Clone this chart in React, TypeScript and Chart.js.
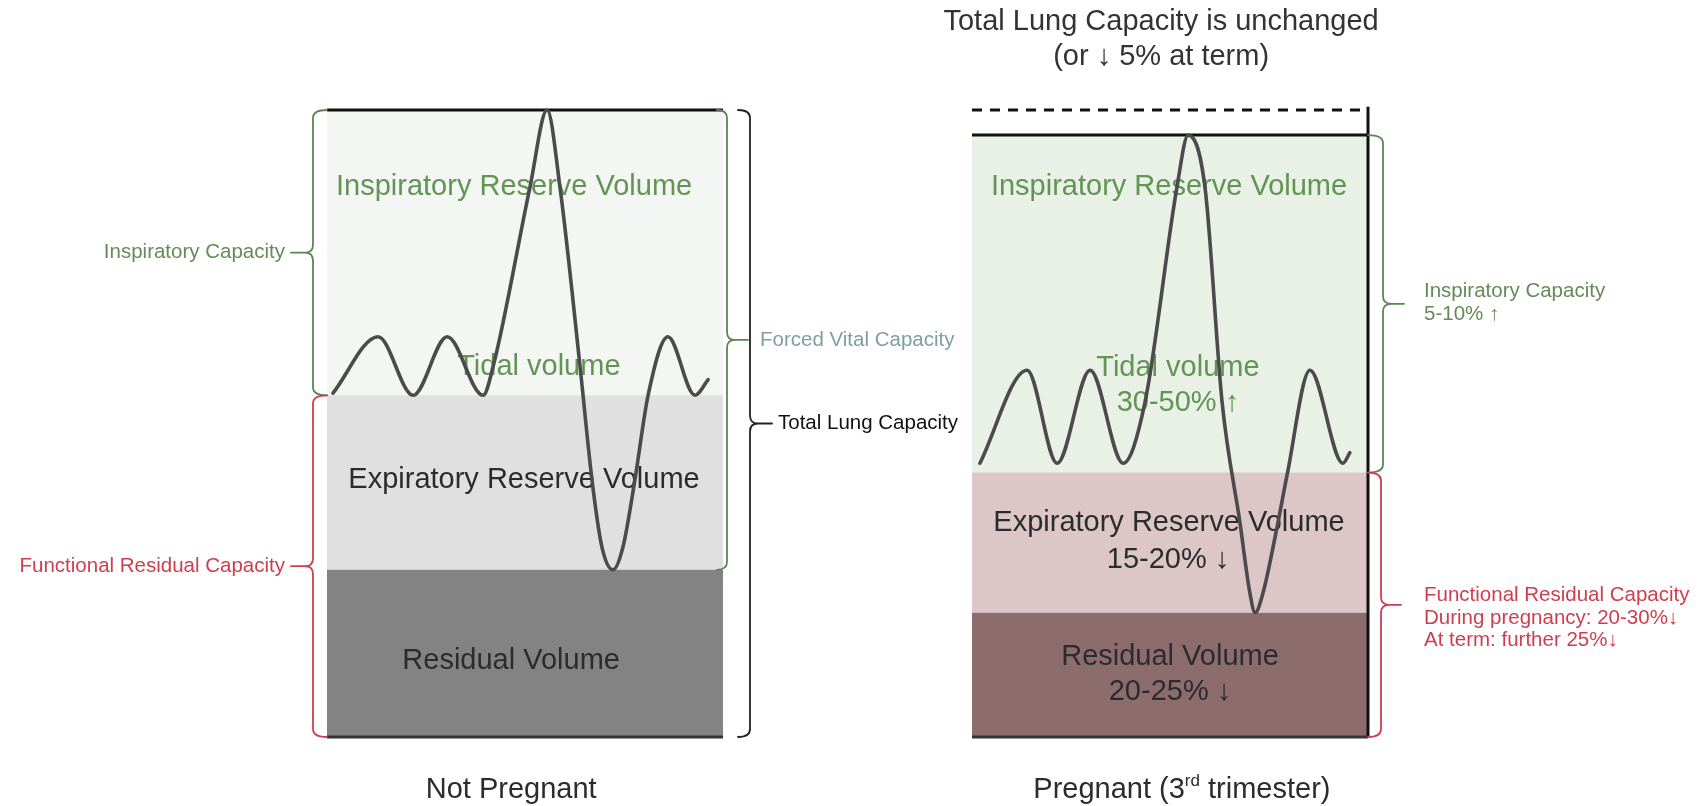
import React, { useEffect, useRef } from 'react';
import { Chart, registerables } from 'chart.js';

Chart.register(...registerables);

// ---------------- DATA ----------------
const PANEL_NAMES = ['Not Pregnant', 'Pregnant (3rd trimester)'];
// Boundaries of the stacked lung volumes (litres): top of RV, top of ERV (= FRC), top of IRV (= TLC)
const BOUNDARY_NAMES = ['RV', 'FRC', 'TLC'];
const NOT_PREGNANT_LEVELS = [1.6, 3.27, 6.0];
const PREGNANT_LEVELS = [1.19, 2.53, 5.76];
const REFERENCE_TLC = 6.0; // dashed line: non-pregnant TLC

// Spirometry trace (time in s, volume in L)
const NOT_PREGNANT_TIME = [0.18, 1.55, 2.61, 3.64, 4.73, 5.03, 6.15, 6.67, 7.06, 7.67, 8.03, 8.33, 8.67, 8.97, 9.33, 9.73, 10.33, 11.15, 11.55];
const NOT_PREGNANT_VOLUME = [3.29, 3.83, 3.27, 3.83, 3.27, 3.54, 5.26, 6.0, 5.26, 3.54, 2.46, 1.82, 1.6, 1.82, 2.46, 3.27, 3.83, 3.27, 3.42];
const PREGNANT_TIME = [0.24, 1.67, 2.58, 3.58, 4.58, 5.24, 6.21, 6.55, 7.06, 7.58, 8.12, 8.42, 8.58, 8.82, 9.27, 9.55, 10.24, 11.24, 11.45];
const PREGNANT_VOLUME = [2.62, 3.51, 2.62, 3.51, 2.62, 3.2, 5.26, 5.76, 5.26, 3.2, 2.05, 1.38, 1.19, 1.38, 2.05, 2.51, 3.51, 2.62, 2.72];

const BOX_DURATION = 12; // seconds covered by each box

// ---------------- LAYOUT ----------------
const W = 1700;
const H = 806;
const PX_PER_S = 33;
const PX_PER_L = 104.5;
const BOX_LEFT_PX = 327;
const BASE_PX = 737;
const PANEL_OFFSET = [0, 645 / PX_PER_S];
const X_MIN = -BOX_LEFT_PX / PX_PER_S;
const X_MAX = (W - BOX_LEFT_PX) / PX_PER_S;
const Y_MAX = BASE_PX / PX_PER_L;
const Y_MIN = -(H - BASE_PX) / PX_PER_L;

const FONT = '"Liberation Sans", Arial, Helvetica, sans-serif';
const GREEN = '#619455';
const GREEN_SMALL = '#658b58';
const GREEN_BRACE = '#5c8652';
const RED = '#cf3e4e';
const DARK = '#2c2c2c';
const TEAL = '#7f9ea4';

const LEVELS = [NOT_PREGNANT_LEVELS, PREGNANT_LEVELS];

type Part = { text: string; sup?: boolean };
type TextLabel = { panel: number; t: number; v: number; parts: Part[]; color: string; size: number };

const TEXT_LABELS: TextLabel[] = [
  { panel: 0, t: 5.67, v: 5.26, parts: [{ text: 'Inspiratory Reserve Volume' }], color: GREEN, size: 29 },
  { panel: 0, t: 6.42, v: 3.54, parts: [{ text: 'Tidal volume' }], color: GREEN, size: 29 },
  { panel: 0, t: 5.97, v: 2.46, parts: [{ text: 'Expiratory Reserve Volume' }], color: DARK, size: 29 },
  { panel: 0, t: 5.58, v: 0.73, parts: [{ text: 'Residual Volume' }], color: DARK, size: 29 },
  { panel: 0, t: 5.58, v: -0.51, parts: [{ text: PANEL_NAMES[0] }], color: DARK, size: 29 },
  { panel: 1, t: 5.73, v: 6.84, parts: [{ text: 'Total Lung Capacity is unchanged' }], color: '#333333', size: 29 },
  { panel: 1, t: 5.73, v: 6.505, parts: [{ text: '(or \u2193 5% at term)' }], color: '#333333', size: 29 },
  { panel: 1, t: 5.97, v: 5.26, parts: [{ text: 'Inspiratory Reserve Volume' }], color: GREEN, size: 29 },
  { panel: 1, t: 6.24, v: 3.53, parts: [{ text: 'Tidal volume' }], color: GREEN, size: 29 },
  { panel: 1, t: 6.24, v: 3.2, parts: [{ text: '30-50% \u2191' }], color: GREEN, size: 29 },
  { panel: 1, t: 5.97, v: 2.05, parts: [{ text: 'Expiratory Reserve Volume' }], color: DARK, size: 29 },
  { panel: 1, t: 5.94, v: 1.69, parts: [{ text: '15-20% \u2193' }], color: DARK, size: 29 },
  { panel: 1, t: 6.0, v: 0.77, parts: [{ text: 'Residual Volume' }], color: DARK, size: 29 },
  { panel: 1, t: 6.0, v: 0.43, parts: [{ text: '20-25% \u2193' }], color: DARK, size: 29 },
  {
    panel: 1, t: 6.36, v: -0.51,
    parts: [{ text: 'Pregnant (3' }, { text: 'rd', sup: true }, { text: ' trimester)' }],
    color: DARK, size: 29,
  },
];

type Brace = {
  panel: number; from: number; to: number; edge: 'left' | 'right'; dx: number; dir: number;
  tip: number; curl: number; color: string; lines: string[]; dys: number[]; textColor: string; gap: number;
};

// from/to: index into the panel's levels (-1 = base line)
const BRACES: Brace[] = [
  { panel: 0, from: 1, to: 2, edge: 'left', dx: -14, dir: -1, tip: 22, curl: 14, color: GREEN_BRACE, lines: ['Inspiratory Capacity'], dys: [0], textColor: GREEN_SMALL, gap: 6 },
  { panel: 0, from: -1, to: 1, edge: 'left', dx: -14, dir: -1, tip: 22, curl: 14, color: RED, lines: ['Functional Residual Capacity'], dys: [0], textColor: RED, gap: 6 },
  { panel: 0, from: 0, to: 2, edge: 'right', dx: 4, dir: 1, tip: 21, curl: 10, color: GREEN_BRACE, lines: ['Forced Vital Capacity'], dys: [0], textColor: TEAL, gap: 12 },
  { panel: 0, from: -1, to: 2, edge: 'right', dx: 27, dir: 1, tip: 22, curl: 12, color: '#222222', lines: ['Total Lung Capacity'], dys: [0], textColor: '#111111', gap: 6 },
  { panel: 1, from: 1, to: 2, edge: 'right', dx: 15, dir: 1, tip: 21, curl: 15, color: GREEN_BRACE, lines: ['Inspiratory Capacity', '5-10% \u2191'], dys: [-13, 10], textColor: GREEN_SMALL, gap: 20 },
  { panel: 1, from: -1, to: 1, edge: 'right', dx: 13, dir: 1, tip: 20, curl: 13, color: RED, lines: ['Functional Residual Capacity', 'During pregnancy: 20-30%\u2193', 'At term: further 25%\u2193'], dys: [-9, 14, 36], textColor: RED, gap: 23 },
];

// ---------------- HELPERS ----------------
const pts = (ts: number[], vs: number[], off: number) => ts.map((t, i) => ({ x: t + off, y: vs[i] }));
const seg = (off: number, v: number) => [{ x: off, y: v }, { x: off + BOX_DURATION, y: v }];
const lvl = (panel: number, i: number) => (i < 0 ? 0 : LEVELS[panel][i]);

function drawBrace(ctx: CanvasRenderingContext2D, x: number, yTop: number, yBot: number, dir: number, tipLen: number, curl: number, color: string) {
  const mid = (yTop + yBot) / 2;
  const r = Math.min(8, (yBot - yTop) / 4);
  ctx.save();
  ctx.strokeStyle = color;
  ctx.lineWidth = 1.8;
  ctx.lineCap = 'round';
  ctx.lineJoin = 'round';
  ctx.beginPath();
  ctx.moveTo(x - dir * curl, yTop);
  ctx.quadraticCurveTo(x, yTop, x, yTop + r);
  ctx.lineTo(x, mid - r);
  ctx.quadraticCurveTo(x, mid, x + dir * 8, mid);
  ctx.quadraticCurveTo(x, mid, x, mid + r);
  ctx.lineTo(x, yBot - r);
  ctx.quadraticCurveTo(x, yBot, x - dir * curl, yBot);
  ctx.moveTo(x + dir * 8, mid);
  ctx.lineTo(x + dir * tipLen, mid);
  ctx.stroke();
  ctx.restore();
}

const overlayPlugin = {
  id: 'lungOverlay',
  beforeDatasetsDraw(chart: any) {
    const ctx: CanvasRenderingContext2D = chart.ctx;
    const xs = chart.scales.x;
    const ys = chart.scales.y;
    ctx.save();
    ctx.textBaseline = 'middle';
    for (const lab of TEXT_LABELS) {
      const cx = xs.getPixelForValue(lab.t + PANEL_OFFSET[lab.panel]);
      const cy = ys.getPixelForValue(lab.v);
      const widths = lab.parts.map((p) => {
        ctx.font = `${p.sup ? Math.round(lab.size * 0.58) : lab.size}px ${FONT}`;
        return ctx.measureText(p.text).width;
      });
      const total = widths.reduce((a, b) => a + b, 0);
      let x = cx - total / 2;
      ctx.fillStyle = lab.color;
      ctx.textAlign = 'left';
      lab.parts.forEach((p, i) => {
        ctx.font = `${p.sup ? Math.round(lab.size * 0.58) : lab.size}px ${FONT}`;
        ctx.fillText(p.text, x, p.sup ? cy - lab.size * 0.3 : cy);
        x += widths[i];
      });
    }
    ctx.restore();
  },
  afterDatasetsDraw(chart: any) {
    const ctx: CanvasRenderingContext2D = chart.ctx;
    const xs = chart.scales.x;
    const ys = chart.scales.y;
    for (const b of BRACES) {
      const off = PANEL_OFFSET[b.panel];
      const edgePx = xs.getPixelForValue(b.edge === 'left' ? off : off + BOX_DURATION);
      const x = edgePx + b.dx;
      const yTop = ys.getPixelForValue(lvl(b.panel, b.to));
      const yBot = ys.getPixelForValue(lvl(b.panel, b.from));
      drawBrace(ctx, x, yTop, yBot, b.dir, b.tip, b.curl, b.color);
      const mid = (yTop + yBot) / 2;
      ctx.save();
      ctx.font = `20.5px ${FONT}`;
      ctx.fillStyle = b.textColor;
      ctx.textBaseline = 'middle';
      ctx.textAlign = b.dir < 0 ? 'right' : 'left';
      const tx = x + b.dir * (b.tip + b.gap);
      b.lines.forEach((line, i) => ctx.fillText(line, tx, mid + b.dys[i]));
      ctx.restore();
    }
  },
};

function buildConfig(): any {
  const o0 = PANEL_OFFSET[0];
  const o1 = PANEL_OFFSET[1];
  const fillDs = (data: any[], fill: any, bg: string, border = 'transparent', bw = 0) => ({
    data, fill, backgroundColor: bg, borderColor: border, borderWidth: bw, pointRadius: 0, tension: 0,
  });
  const lineDs = (data: any[], color: string, bw: number, dash: number[] = []) => ({
    data, fill: false, borderColor: color, borderWidth: bw, borderDash: dash, pointRadius: 0, tension: 0,
    borderCapStyle: 'butt',
  });
  const traceDs = (data: any[]) => ({
    data, fill: false, borderColor: '#4b4b4b', borderWidth: 3.6, pointRadius: 0,
    cubicInterpolationMode: 'monotone', borderCapStyle: 'round', borderJoinStyle: 'round',
  });
  return {
    type: 'line',
    data: {
      datasets: [
        traceDs(pts(NOT_PREGNANT_TIME, NOT_PREGNANT_VOLUME, o0)),
        traceDs(pts(PREGNANT_TIME, PREGNANT_VOLUME, o1)),
        // Not pregnant stacked volumes
        fillDs(seg(o0, NOT_PREGNANT_LEVELS[0]), { value: 0 }, '#838383'),
        fillDs(seg(o0, NOT_PREGNANT_LEVELS[1]), '-1', '#e0e0e0'),
        fillDs(seg(o0, NOT_PREGNANT_LEVELS[2]), '-1', '#f4f6f3', '#111111', 3),
        lineDs(seg(o0, 0), '#333333', 3),
        // Pregnant stacked volumes
        fillDs(seg(o1, PREGNANT_LEVELS[0]), { value: 0 }, '#8c6c6d'),
        fillDs(seg(o1, PREGNANT_LEVELS[1]), '-1', '#dcc6c8'),
        fillDs(seg(o1, PREGNANT_LEVELS[2]), '-1', '#e9f0e5', '#111111', 3),
        lineDs(seg(o1, 0), '#333333', 3),
        lineDs(seg(o1, REFERENCE_TLC), '#111111', 3, [10, 8]),
        lineDs([{ x: o1 + BOX_DURATION, y: REFERENCE_TLC + 0.03 }, { x: o1 + BOX_DURATION, y: 0 }], '#111111', 3),
      ],
    },
    options: {
      responsive: false,
      maintainAspectRatio: false,
      animation: false,
      devicePixelRatio: 1,
      events: [],
      layout: { padding: 0 },
      scales: {
        x: { type: 'linear', min: X_MIN, max: X_MAX, display: false },
        y: { type: 'linear', min: Y_MIN, max: Y_MAX, display: false },
      },
      plugins: {
        legend: { display: false },
        tooltip: { enabled: false },
        filler: { drawTime: 'beforeDraw', propagate: false },
      },
      elements: { point: { radius: 0 } },
    },
    plugins: [overlayPlugin],
  };
}

export default function App() {
  const ref = useRef<HTMLCanvasElement>(null);
  useEffect(() => {
    if (!ref.current) return;
    const chart = new Chart(ref.current, buildConfig());
    return () => chart.destroy();
  }, []);
  return (
    <div style={{ position: 'absolute', left: 0, top: 0, width: W, height: H, background: '#ffffff' }}>
      <canvas ref={ref} width={W} height={H} style={{ display: 'block', width: W, height: H }} aria-label={BOUNDARY_NAMES.join(', ')} />
    </div>
  );
}
